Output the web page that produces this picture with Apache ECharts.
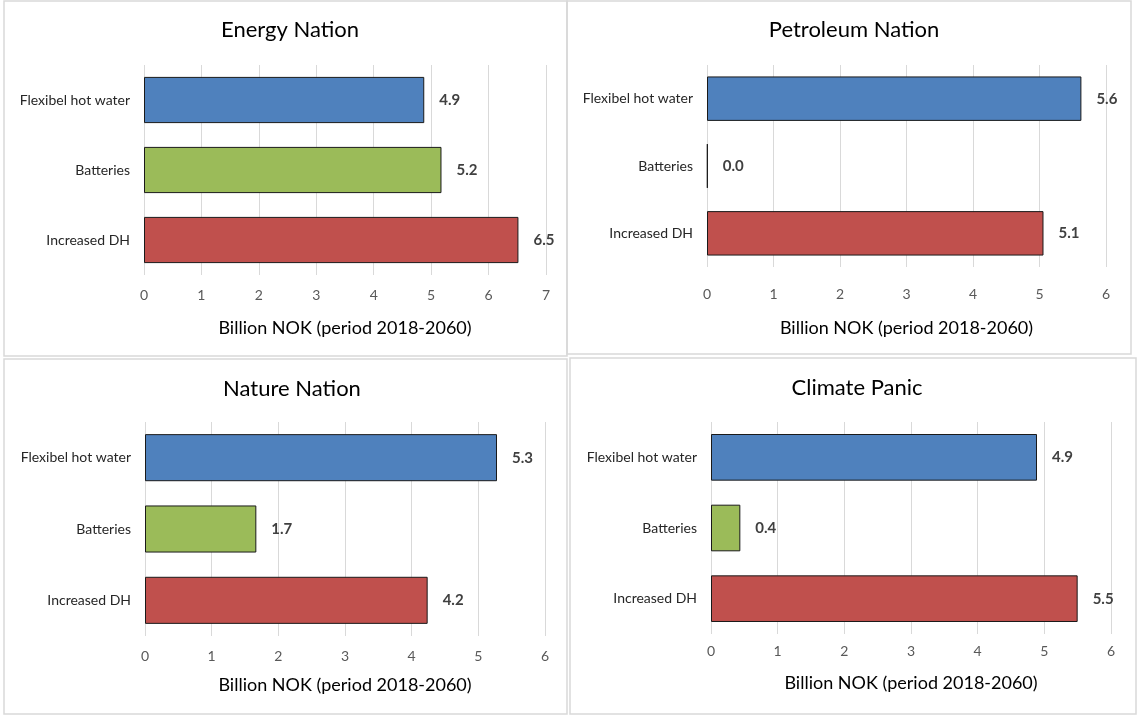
<!DOCTYPE html>
<html><head><meta charset="utf-8">
<script src="https://cdn.jsdelivr.net/npm/echarts@6/dist/echarts.min.js"></script>
<style>html,body{margin:0;padding:0;background:#fff}#c{width:1137px;height:715px}</style>
</head><body><div id="c"></div>
<script>
const categories = ["Flexibel hot water", "Batteries", "Increased DH"];
const panelTitles = ["Energy Nation", "Petroleum Nation", "Nature Nation", "Climate Panic"];
const energyNation = [4.88, 5.18, 6.52];
const petroleumNation = [5.63, 0.01, 5.06];
const natureNation = [5.28, 1.67, 4.24];
const climatePanic = [4.89, 0.44, 5.5];
const axisMax = [7, 6, 6, 6];
const axisName = "Billion NOK (period 2018-2060)";
const barColors = ["#4F81BD", "#9BBB59", "#C0504D"];

const panelData = [energyNation, petroleumNation, natureNation, climatePanic];
const grids = [
  {left: 144, right: 591, top: 65, bottom: 440},
  {left: 707, right: 31, top: 65, bottom: 448},
  {left: 145, right: 592, top: 422, bottom: 79},
  {left: 711, right: 26, top: 422, bottom: 81}
];
const labelMargin = [13, 20, 13, 10];
const nameGaps = [44, 52, 40, 40];
const boxes = [
  {x: 4, y: 1, w: 563, h: 355},
  {x: 567, y: 1, w: 564, h: 353},
  {x: 4, y: 359, w: 563, h: 355},
  {x: 570, y: 358, w: 566, h: 356}
];
const titlePos = [
  {left: 285, top: 14}, {left: 849, top: 14}, {left: 287, top: 373}, {left: 852, top: 372}
];
const font = "Lato, 'Open Sans', sans-serif";
const chart = echarts.init(document.getElementById('c'));
const option = {
  animation: false,
  textStyle: {fontFamily: font},
  graphic: boxes.map(b => ({type: 'rect', shape: {x: b.x, y: b.y, width: b.w, height: b.h}, style: {fill: 'none', stroke: '#d9d9d9', lineWidth: 1.5}, z: 0})),
  title: panelTitles.map((t, i) => ({text: t, left: titlePos[i].left, top: titlePos[i].top, textAlign: 'center', textStyle: {fontSize: 22, fontWeight: 'normal', color: '#000', fontFamily: font}})),
  grid: grids,
  xAxis: grids.map((g, i) => ({
    type: 'value', gridIndex: i, min: 0, max: axisMax[i], interval: 1,
    name: axisName, nameLocation: 'middle', nameGap: nameGaps[i],
    nameTextStyle: {fontSize: 18, color: '#000', fontFamily: font},
    axisLine: {show: false}, axisTick: {show: false},
    axisLabel: {color: '#595959', fontSize: 14, margin: labelMargin[i], fontFamily: font},
    splitLine: {show: true, lineStyle: {color: '#d9d9d9', width: 1}}
  })),
  yAxis: grids.map((g, i) => ({
    type: 'category', gridIndex: i, data: categories, inverse: true,
    axisLine: {show: false}, axisTick: {show: false},
    axisLabel: {color: '#262626', fontSize: 14, margin: 14, fontFamily: font}
  })),
  series: panelData.map((d, i) => ({
    type: 'bar', xAxisIndex: i, yAxisIndex: i, barWidth: '66%',
    data: d.map((v, j) => ({value: v, itemStyle: {color: barColors[j], borderColor: '#1a1a1a', borderWidth: 1}})),
    label: {show: true, position: 'right', distance: 15, fontWeight: 'bold', fontSize: 15, color: '#404040', fontFamily: font,
      formatter: p => p.value.toFixed(1)}
  }))
};
chart.setOption(option);
</script></body></html>
